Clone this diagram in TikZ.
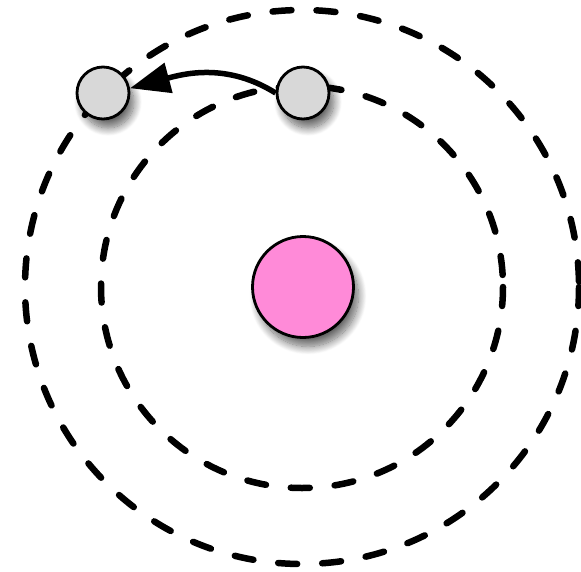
\documentclass[tikz,border=0pt]{standalone}
\usetikzlibrary{arrows.meta,shadows.blur}
\definecolor{nucpink}{RGB}{255,138,216}
\definecolor{elgray}{RGB}{216,216,216}
\tikzset{
  orbit/.style={line width=6.5pt, dash pattern=on 19pt off 25pt, line cap=round},
  particle/.style={circle, draw=black, line width=2.8pt, inner sep=0pt,
    blur shadow={shadow xshift=5pt, shadow yshift=-9pt, shadow blur radius=8pt, shadow blur steps=14, shadow opacity=60}},
  electron/.style={particle, fill=elgray, minimum size=52pt},
  nucleus/.style={particle, fill=nucpink, minimum size=101pt},
  jump/.style={line width=5.5pt, -{Triangle[length=40pt,width=30pt]}}
}
\begin{document}
\begin{tikzpicture}[x=1pt,y=-1pt]
\useasboundingbox (0,0) rectangle (581,571);
\coordinate (c) at (302,287);
\draw[orbit] (c) circle[radius=201];
\draw[orbit] (c) circle[radius=277];
\node[nucleus] (nuc) at (303,287) {};
\node[electron] (e1) at (103,93) {};
\node[electron] (e2) at (303,93) {};
\draw[jump] (e2.west) to[out=148,in=15] (e1.10);
\end{tikzpicture}
\end{document}
